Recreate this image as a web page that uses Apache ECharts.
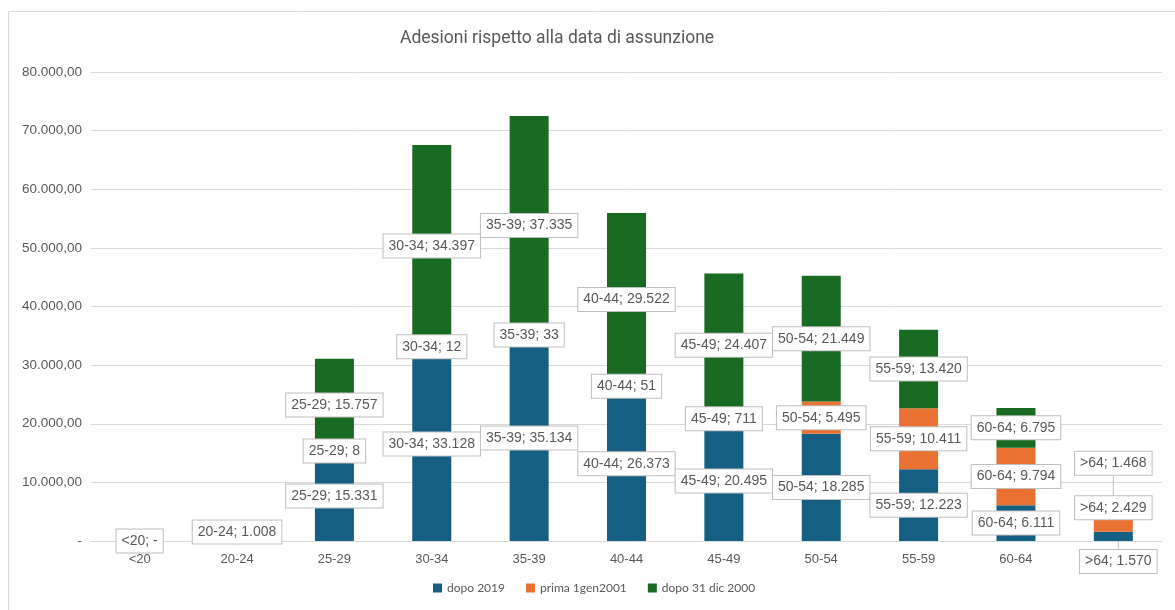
<!DOCTYPE html>
<html>
<head>
<meta charset="utf-8">
<script src="https://cdn.jsdelivr.net/npm/echarts@6/dist/echarts.min.js"></script>
<style>
  html, body { margin: 0; padding: 0; background: #fff; }
  #app { width: 1175px; height: 610px; }
</style>
</head>
<body>
<div id="app"></div>
<script>
var categories = ['<20', '20-24', '25-29', '30-34', '35-39', '40-44', '45-49', '50-54', '55-59', '60-64', '>64'];
var dopo2019 = [0, 1008, 15331, 33128, 35134, 26373, 20495, 18285, 12223, 6111, 1570];
var prima2001 = [null, null, 8, 12, 33, 51, 711, 5495, 10411, 9794, 2429];
var dopo2000 = [null, null, 15757, 34397, 37335, 29522, 24407, 21449, 13420, 6795, 1468];

var grey = '#595959';

function groupThousands(n) {
    var s = String(Math.round(Math.abs(n)));
    return s.replace(/\B(?=(\d{3})+(?!\d))/g, '.');
}

function labelText(params) {
    var v = params.value;
    return params.name + '; ' + (v ? groupThousands(v) : '-');
}

var labelStyle = {
    show: true,
    position: 'inside',
    formatter: labelText,
    color: grey,
    fontFamily: 'Liberation Sans',
    fontSize: 14,
    lineHeight: 16,
    backgroundColor: '#fff',
    borderColor: '#bfbfbf',
    borderWidth: 1,
    padding: [4, 5, 3, 5]
};

// labels that Excel pushed away from their segment, keyed by data index
function mover(shifts) {
    return function (params) {
        var s = shifts[params.dataIndex];
        return s ? { dx: s[0], dy: s[1] } : {};
    };
}

function makeSeries(name, data, color, shifts) {
    return {
        name: name,
        type: 'bar',
        stack: 'total',
        barWidth: 39,
        data: data,
        itemStyle: { color: color },
        label: labelStyle,
        labelLine: { show: true, lineStyle: { color: '#bfbfbf', width: 1 } },
        labelLayout: mover(shifts)
    };
}

var chart = echarts.init(document.getElementById('app'), null, { renderer: 'canvas' });
chart.setOption({
    animation: false,
    title: {
        text: 'Adesioni rispetto alla data di assunzione',
        left: 395,
        top: 25,
        textStyle: { color: grey, fontSize: 17.5, fontWeight: 'normal', fontFamily: 'Roboto' }
    },
    graphic: [{
        type: 'rect',
        shape: { x: 8.5, y: 11.5, width: 1200, height: 700 },
        style: { fill: 'none', stroke: '#d9d9d9', lineWidth: 1 },
        silent: true
    }],
    legend: {
        bottom: 11,
        left: 428,
        itemWidth: 9,
        itemHeight: 9,
        itemGap: 21,
        icon: 'rect',
        textStyle: { color: grey, fontSize: 12, fontFamily: 'Lato' }
    },
    grid: { left: 91, right: 13, top: 72, bottom: 69, containLabel: false },
    xAxis: {
        type: 'category',
        data: categories,
        axisLine: { lineStyle: { color: '#d9d9d9' } },
        axisTick: { show: false },
        axisLabel: { color: grey, fontSize: 13, fontFamily: 'Liberation Sans', margin: 12 }
    },
    yAxis: {
        type: 'value',
        min: 0,
        max: 80000,
        interval: 10000,
        axisLine: { show: false },
        axisTick: { show: false },
        splitLine: { lineStyle: { color: '#d9d9d9' } },
        axisLabel: {
            color: grey,
            fontSize: 13.5,
            fontFamily: 'Liberation Sans',
            margin: 9,
            formatter: function (v) { return v ? groupThousands(v) + ',00' : '-'; }
        }
    },
    series: [
        makeSeries('dopo 2019', dopo2019, '#156082', { 1: [0, -6], 10: [5, 25] }),
        makeSeries('prima 1gen2001', prima2001, '#e97132', { 10: [0, -17] }),
        makeSeries('dopo 31 dic 2000', dopo2000, '#196b24', { 10: [0, -50] })
    ]
});
</script>
</body>
</html>
